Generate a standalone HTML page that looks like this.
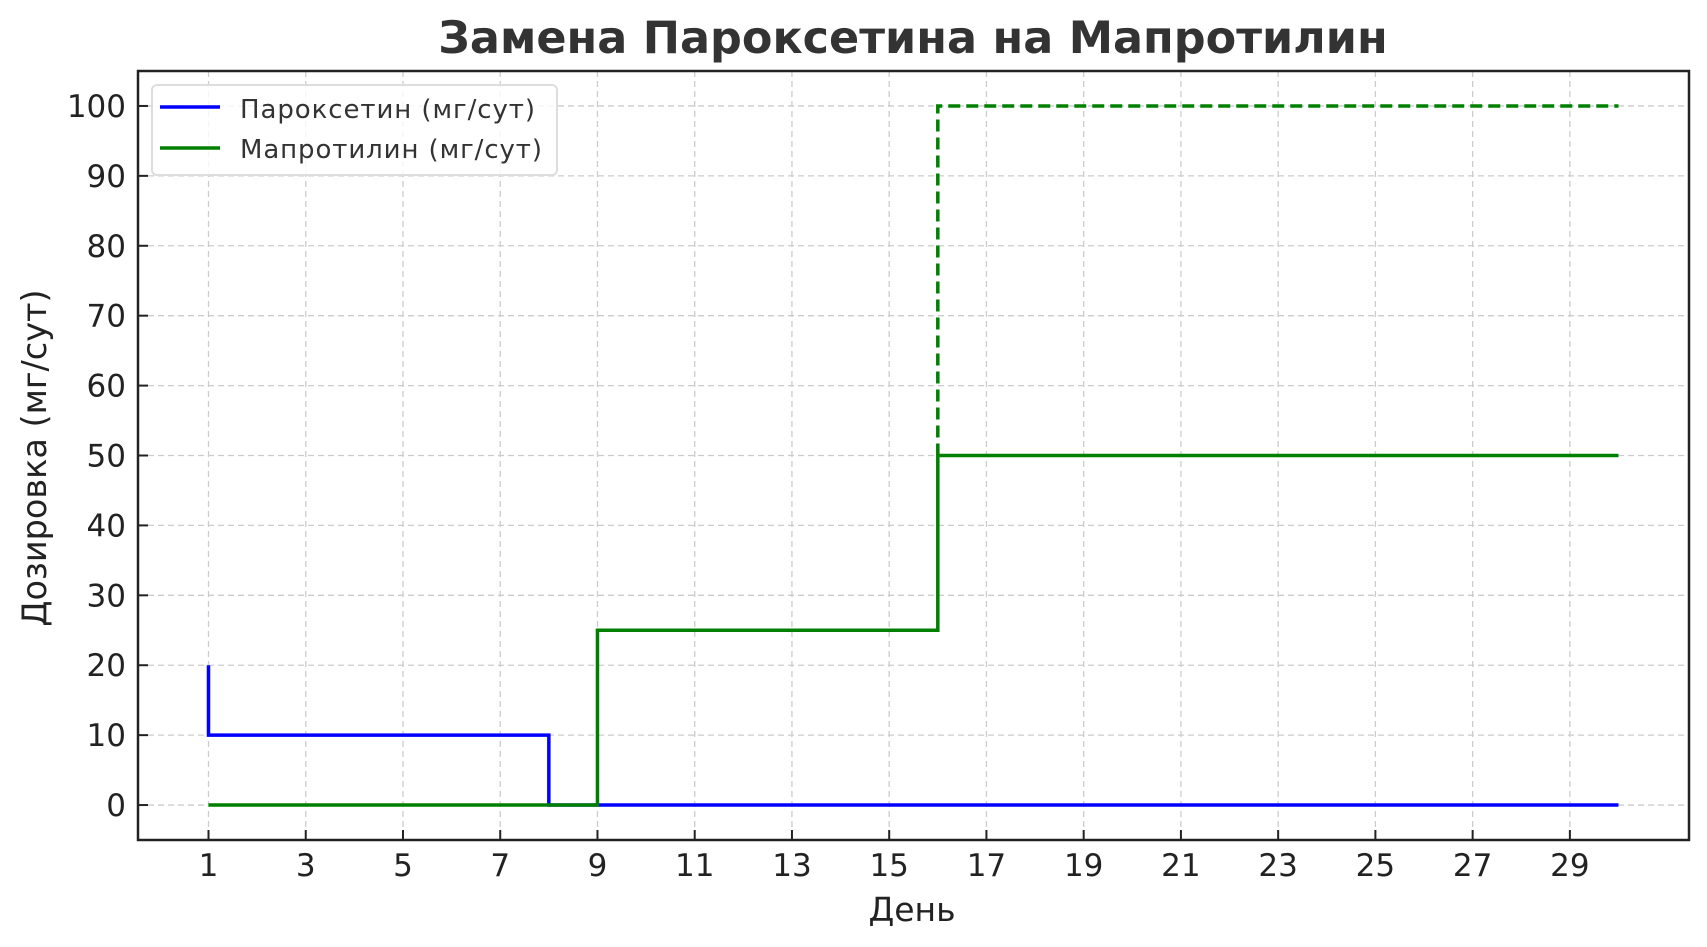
<!DOCTYPE html>
<html><head><meta charset="utf-8"><style>
html,body{margin:0;padding:0;background:#fff;}
svg{display:block;font-family:"DejaVu Sans","Liberation Sans",sans-serif;}
</style></head><body>
<svg id="chart" width="1707" height="947" viewBox="0 0 1707 947" xmlns="http://www.w3.org/2000/svg">
<text x="913" y="53" text-anchor="middle" font-size="44.5" font-weight="bold" fill="#333">Замена Пароксетина на Мапротилин</text>
<g id="grid"></g>
<g id="series"></g>
<rect x="138" y="71" width="1551" height="769" fill="none" stroke="#222" stroke-width="2.5"/>
<g id="ticks"></g>
<text x="912" y="921" text-anchor="middle" font-size="33" fill="#222">День</text>
<text transform="translate(46,458) rotate(-90)" text-anchor="middle" font-size="33.5" fill="#222">Дозировка (мг/сут)</text>
<g>
<rect x="152" y="85" width="405" height="90" rx="5" fill="#fff" fill-opacity="0.8" stroke="#ddd" stroke-width="2"/>
<line x1="160" y1="107" x2="220" y2="107" stroke="#0000ff" stroke-width="3.5"/>
<text x="240" y="118" font-size="26" fill="#333" textLength="295">Пароксетин (мг/сут)</text>
<line x1="160" y1="148" x2="220" y2="148" stroke="#008000" stroke-width="3.5"/>
<text x="240" y="158" font-size="26" fill="#333" textLength="302">Мапротилин (мг/сут)</text>
</g>
</svg>
<script>
const days = Array.from({length:30},(_,i)=>i+1);
const paroxetine = [20,10,10,10,10,10,10,10,0,0,0,0,0,0,0,0,0,0,0,0,0,0,0,0,0,0,0,0,0,0];
const maprotiline = [0,0,0,0,0,0,0,0,0,25,25,25,25,25,25,25,50,50,50,50,50,50,50,50,50,50,50,50,50,50];
const maprotilineMaxDays = [16,17,18,19,20,21,22,23,24,25,26,27,28,29,30];
const maprotilineMax = [50,100,100,100,100,100,100,100,100,100,100,100,100,100,100];
const xTicks = [1,3,5,7,9,11,13,15,17,19,21,23,25,27,29];
const yTicks = [0,10,20,30,40,50,60,70,80,90,100];

const NS="http://www.w3.org/2000/svg";
const L=138,R=1689,T=71,B=840,xmin=-0.45,xmax=31.45,ymin=-5,ymax=105;
const X=v=>L+(v-xmin)/(xmax-xmin)*(R-L);
const Y=v=>B-(v-ymin)/(ymax-ymin)*(B-T);
function mk(tag,attrs,parent){const e=document.createElementNS(NS,tag);for(const k in attrs)e.setAttribute(k,attrs[k]);parent.appendChild(e);return e;}
const grid=document.getElementById('grid'),ticks=document.getElementById('ticks'),series=document.getElementById('series');
xTicks.forEach(t=>{
  const g=mk('line',{x1:X(t),x2:X(t),y1:T,y2:B,stroke:'#ccc','stroke-width':1.3,'stroke-dasharray':'6,4'},grid);
  
  
  const tk=mk('line',{x1:X(t),x2:X(t),y1:B,y2:B-10,stroke:'#222','stroke-width':2},ticks);
  
  
  const tx=mk('text',{x:X(t),y:876,'text-anchor':'middle','font-size':31,fill:'#222'},ticks);
  tx.textContent=t;
  
  
});
yTicks.forEach(t=>{
  const g=mk('line',{x1:L,x2:R,y1:Y(t),y2:Y(t),stroke:'#ccc','stroke-width':1.3,'stroke-dasharray':'6,4'},grid);
  
  
  const tk=mk('line',{x1:L,x2:L+10,y1:Y(t),y2:Y(t),stroke:'#222','stroke-width':2},ticks);
  
  
  const tx=mk('text',{x:126,y:Y(t)+11,'text-anchor':'end','font-size':31,fill:'#222'},ticks);
  tx.textContent=t;
  
  
});
function stepPre(xs,ys){
  let d='M'+X(xs[0])+','+Y(ys[0]);
  for(let i=1;i<xs.length;i++){d+=' L'+X(xs[i-1])+','+Y(ys[i])+' L'+X(xs[i])+','+Y(ys[i]);}
  return d;
}
const p1=mk('path',{d:stepPre(days,paroxetine),fill:'none',stroke:'#0000ff','stroke-width':3.5},series);


const p2=mk('path',{d:stepPre(days,maprotiline),fill:'none',stroke:'#008000','stroke-width':3.5},series);


const p3=mk('path',{d:stepPre(maprotilineMaxDays,maprotilineMax),fill:'none',stroke:'#008000','stroke-width':3.5,'stroke-dasharray':'12,6'},series);


</script>
</body></html>
